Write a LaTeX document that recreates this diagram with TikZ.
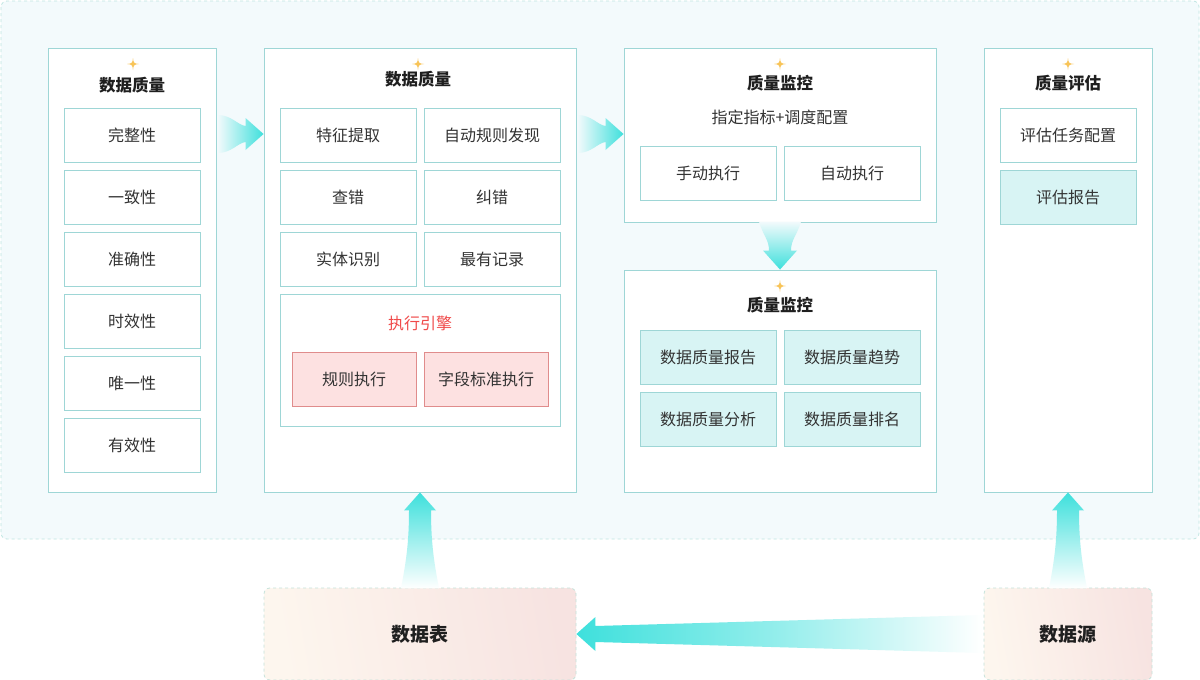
\documentclass[tikz,border=0pt]{standalone}
\usepackage{fontspec}
\setmainfont{Noto Sans CJK SC}
\definecolor{bd}{HTML}{9ED6D6}
\definecolor{bgc}{HTML}{F3FAFC}
\definecolor{bgline}{HTML}{BFE6E2}
\definecolor{cy}{HTML}{3EE0DC}
\definecolor{cyfill}{HTML}{D8F4F4}
\definecolor{txt}{HTML}{333333}
\definecolor{ttl}{HTML}{1F1F1F}
\definecolor{redt}{HTML}{F04A4A}
\definecolor{redf}{HTML}{FDE1E1}
\definecolor{redb}{HTML}{E08C8C}
\definecolor{spk}{HTML}{F8C458}
\definecolor{botA}{HTML}{FDF6EE}
\definecolor{botB}{HTML}{F7E3E1}
\definecolor{botline}{HTML}{C4E2DA}
\tikzset{
  panel/.style={draw=bd, fill=white, line width=0.9pt, inner sep=0pt},
  item/.style={draw=bd, fill=white, line width=0.9pt, inner sep=0pt,
    minimum width=136pt, minimum height=54pt, text=txt, font=\fontsize{16}{19}\selectfont},
  citem/.style={item, fill=cyfill},
  ritem/.style={item, fill=redf, draw=redb, minimum width=124pt},
  ttlnode/.style={text=ttl, font=\fontsize{16.5}{19}\selectfont\bfseries, inner sep=0pt},
  subnode/.style={text=txt, font=\fontsize{16}{19}\selectfont, inner sep=0pt},
  botbox/.style={draw=botline, dashed, line width=0.8pt, rounded corners=6pt,
    left color=botA, right color=botB, shading angle=100, inner sep=0pt,
    text=ttl, font=\fontsize{19}{22}\selectfont\bfseries},
  pics/sparkle/.style={code={
    \fill[spk] (0,-6) .. controls (0.7,-0.7) .. (6,0) .. controls (0.7,0.7) .. (0,6)
      .. controls (-0.7,0.7) .. (-6,0) .. controls (-0.7,-0.7) .. (0,-6) -- cycle;}}
}
\begin{document}
\begin{tikzpicture}[x=1pt,y=-1pt]
\useasboundingbox (0,0) rectangle (1200,680);
\fill[white] (0,0) rectangle (1200,680);
% outer background
\draw[bgline, dashed, fill=bgc, line width=0.8pt, rounded corners=6pt] (1,1) rectangle (1199,539);

% ---- column 1
\node[panel, minimum width=168pt, minimum height=444pt] (p1) at (132,270) {};
\pic at (133,64) {sparkle};
\node[ttlnode] (t1) at (132,85) {数据质量};
\node[item] (a1) at (132,135) {完整性};
\node[item] (a2) at (132,197) {一致性};
\node[item] (a3) at (132,259) {准确性};
\node[item] (a4) at (132,321) {时效性};
\node[item] (a5) at (132,383) {唯一性};
\node[item] (a6) at (132,445) {有效性};

% ---- column 2
\node[panel, minimum width=312pt, minimum height=444pt] (p2) at (420,270) {};
\pic at (418,64) {sparkle};
\node[ttlnode] (t2) at (418,79) {数据质量};
\node[item] (b1) at (348,135) {特征提取};
\node[item] (b2) at (492,135) {自动规则发现};
\node[item] (b3) at (348,197) {查错};
\node[item] (b4) at (492,197) {纠错};
\node[item] (b5) at (348,259) {实体识别};
\node[item] (b6) at (492,259) {最有记录};
\node[panel, minimum width=280pt, minimum height=132pt] (eng) at (420,360) {};
\node[subnode, text=redt] (et) at (420,323) {执行引擎};
\node[ritem] (r1) at (354,379) {规则执行};
\node[ritem] (r2) at (486,379) {字段标准执行};

% ---- column 3 top
\node[panel, minimum width=312pt, minimum height=174pt] (p3) at (780,135) {};
\pic at (780,64) {sparkle};
\node[ttlnode] (t3) at (780,83) {质量监控};
\node[subnode] (s3) at (780,117) {指定指标+调度配置};
\node[item] (c1) at (708,173) {手动执行};
\node[item] (c2) at (852,173) {自动执行};

% ---- column 3 bottom
\node[panel, minimum width=312pt, minimum height=222pt] (p4) at (780,381) {};
\pic at (780,286) {sparkle};
\node[ttlnode] (t4) at (780,305) {质量监控};
\node[citem] (d1) at (708,357) {数据质量报告};
\node[citem] (d2) at (852,357) {数据质量趋势};
\node[citem] (d3) at (708,419) {数据质量分析};
\node[citem] (d4) at (852,419) {数据质量排名};

% ---- column 4
\node[panel, minimum width=168pt, minimum height=444pt] (p5) at (1068,270) {};
\pic at (1068,64) {sparkle};
\node[ttlnode] (t5) at (1068,83) {质量评估};
\node[item] (e1) at (1068,135) {评估任务配置};
\node[citem] (e2) at (1068,197) {评估报告};

% ---- bottom boxes
\node[botbox, minimum width=312pt, minimum height=92pt] (tbl) at (420,634) {数据表};
\node[botbox, minimum width=168pt, minimum height=92pt] (src) at (1068,634) {数据源};

% ---- arrows
% col1 -> col2
\coordinate (T1) at ([yshift=1pt]p2.west|-a1.east);
\shade[left color=bgc, right color=cy]
  ([shift={(-46,-19)}]T1) .. controls ([shift={(-32,-19)}]T1) and ([shift={(-26,-9)}]T1) .. ([shift={(-18,-8)}]T1)
  -- ([shift={(-18,-16)}]T1) -- (T1) -- ([shift={(-18,16)}]T1) -- ([shift={(-18,8)}]T1)
  .. controls ([shift={(-26,9)}]T1) and ([shift={(-32,19)}]T1) .. ([shift={(-46,19)}]T1) -- cycle;
% col2 -> col3
\coordinate (T2) at ([yshift=1pt]p3.west|-b2.east);
\shade[left color=bgc, right color=cy]
  ([shift={(-46,-19)}]T2) .. controls ([shift={(-32,-19)}]T2) and ([shift={(-26,-9)}]T2) .. ([shift={(-18,-8)}]T2)
  -- ([shift={(-18,-16)}]T2) -- (T2) -- ([shift={(-18,16)}]T2) -- ([shift={(-18,8)}]T2)
  .. controls ([shift={(-26,9)}]T2) and ([shift={(-32,19)}]T2) .. ([shift={(-46,19)}]T2) -- cycle;
% col3 top -> col3 bottom
\coordinate (D) at (p4.north);
\shade[top color=bgc, bottom color=cy]
  ([shift={(-21,-48)}]D) .. controls ([shift={(-17,-34)}]D) and ([shift={(-11,-30)}]D) .. ([shift={(-11,-19)}]D)
  -- ([shift={(-17,-19)}]D) -- (D) -- ([shift={(17,-19)}]D) -- ([shift={(11,-19)}]D)
  .. controls ([shift={(11,-30)}]D) and ([shift={(17,-34)}]D) .. ([shift={(21,-48)}]D) -- cycle;
% tbl -> col2
\coordinate (U1) at (p2.south);
\shade[top color=cy, bottom color=white, middle color=cy!50!white]
  ([shift={(-19,96)}]U1) .. controls ([shift={(-14,70)}]U1) and ([shift={(-11,50)}]U1) .. ([shift={(-11,18)}]U1)
  -- ([shift={(-16,18)}]U1) -- (U1) -- ([shift={(16,18)}]U1) -- ([shift={(11,18)}]U1)
  .. controls ([shift={(11,50)}]U1) and ([shift={(14,70)}]U1) .. ([shift={(19,96)}]U1) -- cycle;
% src -> col4
\coordinate (U2) at (p5.south);
\shade[top color=cy, bottom color=white, middle color=cy!50!white]
  ([shift={(-19,96)}]U2) .. controls ([shift={(-14,70)}]U2) and ([shift={(-11,50)}]U2) .. ([shift={(-11,18)}]U2)
  -- ([shift={(-16,18)}]U2) -- (U2) -- ([shift={(16,18)}]U2) -- ([shift={(11,18)}]U2)
  .. controls ([shift={(11,50)}]U2) and ([shift={(14,70)}]U2) .. ([shift={(19,96)}]U2) -- cycle;
% src -> tbl
\coordinate (H) at (tbl.east);
\shade[left color=cy, right color=white, middle color=cy!55!white]
  (H) -- ([shift={(19,-17)}]H) -- ([shift={(19,-8)}]H)
  -- ([shift={(406,-19)}]H) -- ([shift={(406,19)}]H)
  -- ([shift={(19,8)}]H) -- ([shift={(19,17)}]H) -- cycle;
\end{tikzpicture}
\end{document}
